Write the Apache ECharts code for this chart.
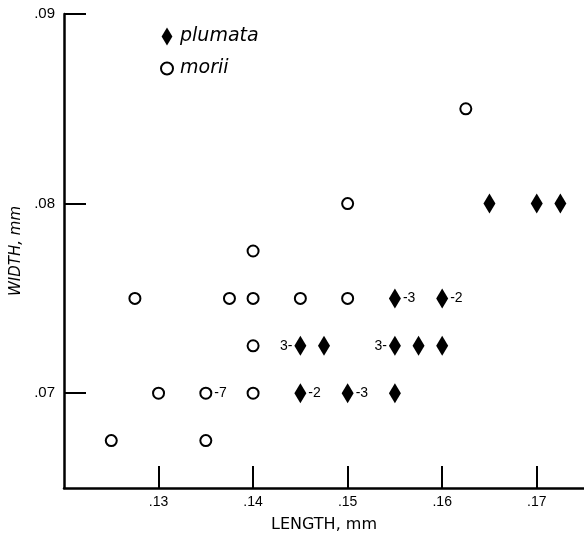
<!DOCTYPE html>
<html>
<head>
<meta charset="utf-8">
<script src="https://cdn.jsdelivr.net/npm/echarts@6/dist/echarts.min.js"></script>
<style>html,body{margin:0;padding:0;background:#fff}#c{width:584px;height:542px}</style>
</head>
<body>
<div id="c"></div>
<script>
// morii (open circles)
const moriiX = [0.125, 0.135, 0.130, 0.135, 0.140, 0.1275, 0.1375, 0.140, 0.145, 0.150, 0.140, 0.140, 0.150, 0.1625];
const moriiY = [0.0675, 0.0675, 0.070, 0.070, 0.070, 0.075, 0.075, 0.075, 0.075, 0.075, 0.0725, 0.0775, 0.080, 0.085];
const moriiLabels = ["", "", "", "-7", "", "", "", "", "", "", "", "", "", ""];
// plumata (filled diamonds)
const plumataX = [0.145, 0.150, 0.155, 0.145, 0.1475, 0.155, 0.1575, 0.160, 0.155, 0.160, 0.165, 0.170, 0.1725];
const plumataY = [0.070, 0.070, 0.070, 0.0725, 0.0725, 0.0725, 0.0725, 0.0725, 0.075, 0.075, 0.080, 0.080, 0.080];
const plumataLabels = ["-2", "-3", "", "3-", "", "3-", "", "", "-3", "-2", "", "", ""];
const xTicks = [0.13, 0.14, 0.15, 0.16, 0.17];
const yTicks = [0.07, 0.08, 0.09];

const fmt = v => v.toFixed(2).replace(/^0/, '');
const labelStyle = {fontSize: 14, color: '#000', fontFamily: 'Liberation Sans'};

function build(xs, ys, labels) {
  return xs.map((x, i) => {
    const item = {value: [x, ys[i]]};
    const t = labels[i];
    if (t) {
      item.label = Object.assign({
        show: true,
        formatter: t,
        position: t.endsWith('-') ? 'left' : 'right',
        distance: 2
      }, labelStyle);
    }
    return item;
  });
}

const chart = echarts.init(document.getElementById('c'));
chart.setOption({
  animation: false,
  backgroundColor: '#fff',
  grid: {left: 64, right: 0, top: 14, bottom: 54},
  legend: {
    orient: 'vertical',
    left: 155,
    top: 22,
    itemWidth: 12,
    itemHeight: 18,
    itemGap: 13,
    selectedMode: false,
    textStyle: {fontStyle: 'italic', fontSize: 19, fontFamily: 'DejaVu Sans', color: '#000', padding: [0, 0, 0, 2]},
    data: [
      {name: 'plumata', icon: 'path://M0,-10L6,0L0,10L-6,0Z', itemStyle: {color: '#000'}},
      {name: 'morii', icon: 'circle', itemStyle: {color: '#fff', borderColor: '#000', borderWidth: 2}}
    ]
  },
  xAxis: {
    type: 'value',
    min: 0.12,
    max: 0.175,
    name: 'LENGTH, mm',
    nameLocation: 'middle',
    nameGap: 29,
    nameTextStyle: {fontSize: 16, fontFamily: 'DejaVu Sans', color: '#000'},
    axisLine: {show: true, onZero: false, lineStyle: {color: '#000', width: 2.5}},
    axisTick: {show: true, inside: true, length: 22, customValues: xTicks, lineStyle: {color: '#000', width: 2}},
    axisLabel: {show: true, customValues: xTicks, formatter: fmt, fontSize: 14, color: '#000', fontFamily: 'Liberation Sans', margin: 7},
    splitLine: {show: false}
  },
  yAxis: {
    type: 'value',
    min: 0.065,
    max: 0.09,
    name: 'WIDTH, mm',
    nameLocation: 'middle',
    nameRotate: 90,
    nameGap: 38,
    nameTextStyle: {fontSize: 15, fontStyle: 'italic', fontFamily: 'DejaVu Sans', color: '#000'},
    axisLine: {show: true, onZero: false, lineStyle: {color: '#000', width: 2.5}},
    axisTick: {show: true, inside: true, length: 22, customValues: yTicks, lineStyle: {color: '#000', width: 2}},
    axisLabel: {show: true, customValues: yTicks, formatter: fmt, fontSize: 15, color: '#000', fontFamily: 'Liberation Sans', margin: 9},
    splitLine: {show: false}
  },
  series: [
    {
      name: 'plumata',
      type: 'scatter',
      symbol: 'diamond',
      symbolSize: [12, 20],
      itemStyle: {color: '#000', opacity: 1},
      data: build(plumataX, plumataY, plumataLabels)
    },
    {
      name: 'morii',
      type: 'scatter',
      symbol: 'circle',
      symbolSize: 11,
      itemStyle: {color: '#fff', borderColor: '#000', borderWidth: 2, opacity: 1},
      data: build(moriiX, moriiY, moriiLabels)
    }
  ]
});
</script>
</body>
</html>
